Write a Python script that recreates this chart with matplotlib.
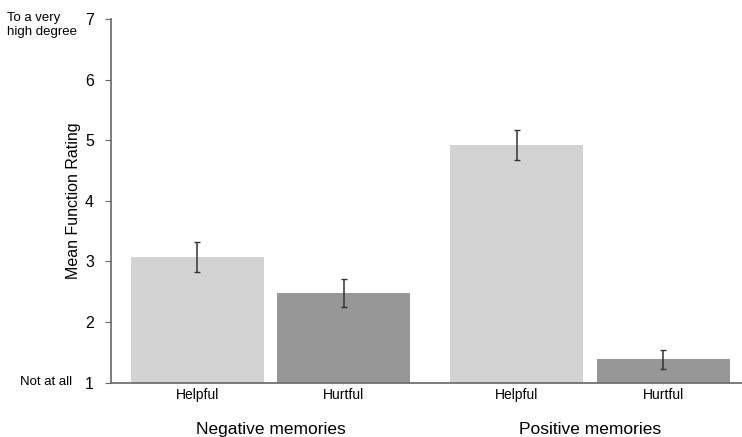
import numpy as np
import matplotlib.pyplot as plt

plt.rcParams['font.family'] = ['Liberation Sans', 'DejaVu Sans']

groups = ['Negative memories', 'Positive memories']
conditions = ['Helpful', 'Hurtful']
means = {'Helpful': [3.07, 4.92], 'Hurtful': [2.47, 1.38]}
errors = {'Helpful': [0.25, 0.24], 'Hurtful': [0.23, 0.15]}
bar_colors = {'Helpful': '#d3d3d3', 'Hurtful': '#979797'}

x = np.arange(len(groups))
offset = 0.229
width = 0.417

fig = plt.figure(figsize=(7.42, 4.37), dpi=100)
ax = fig.add_axes([0.149, 0.1247, 0.851, 0.832])

for i, cond in enumerate(conditions):
    pos = x + (i * 2 - 1) * offset
    ax.bar(pos, np.array(means[cond]) - 1, width, bottom=1,
           color=bar_colors[cond], zorder=2)
    ax.errorbar(pos, means[cond], yerr=errors[cond], fmt='none',
                ecolor='#333333', elinewidth=1.1, capsize=2.5, capthick=1,
                zorder=3)

ax.set_xlim(-0.501, 1.476)
ax.set_ylim(1, 7)
ax.set_yticks(range(1, 8))
ax.set_xticks(sorted(np.concatenate([x - offset, x + offset])))
ax.set_xticklabels(['Helpful', 'Hurtful', 'Helpful', 'Hurtful'])

ax.spines['top'].set_visible(False)
ax.spines['right'].set_visible(False)
for s in ['left', 'bottom']:
    ax.spines[s].set_color('#666666')
    ax.spines[s].set_linewidth(1.2)
ax.tick_params(axis='x', length=0, labelsize=10, pad=4)
ax.tick_params(axis='y', length=4, color='#666666', labelsize=11.5, pad=8)

ax.set_ylabel('Mean Function Rating', fontsize=11.5, labelpad=3)

for xi, g in zip(x, groups):
    ax.text(xi, -0.13, g, transform=ax.get_xaxis_transform(),
            ha='center', va='center', fontsize=12.5)

# scale anchors beside the y axis
fig.text(0.010, 0.943, 'To a very\nhigh degree', ha='left', va='center',
         fontsize=9.5, linespacing=1.2)
fig.text(0.027, 0.127, 'Not at all', ha='left', va='center', fontsize=9.5)

fig.savefig('out.png', dpi=100)
